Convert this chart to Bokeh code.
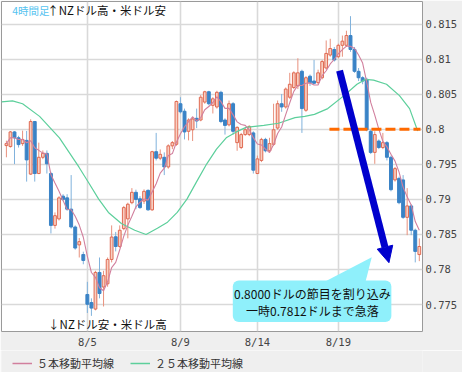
import pandas as pd
from bokeh.plotting import figure
from bokeh.layouts import column
from bokeh.models import (ColumnDataSource, FixedTicker, Range1d, Label, Legend, LegendItem,
                          BoxAnnotation, Arrow, NormalHead, NumeralTickFormatter)
from bokeh.embed import file_html
from bokeh.resources import INLINE

# ---------------- data (NZD/USD, 4-hour candles) ----------------
opens = [0.79768, 0.79754, 0.79963, 0.79879, 0.79796, 0.79842, 0.79361, 0.80111, 0.79369, 0.79601,
         0.79657, 0.79369, 0.78629, 0.78722, 0.79046, 0.79022, 0.78861, 0.78606, 0.78351, 0.78213,
         0.77643, 0.77528, 0.77435, 0.77958, 0.77750, 0.77796, 0.78143, 0.78467, 0.78328, 0.78583,
         0.78722, 0.78953, 0.79101, 0.79008, 0.78976, 0.79129, 0.78851, 0.79681, 0.79588, 0.79601,
         0.79463, 0.79764, 0.79786, 0.80365, 0.80258, 0.79972, 0.79994, 0.80157, 0.80133, 0.80389,
         0.80536, 0.80342, 0.80319, 0.80528, 0.80133, 0.80064, 0.80365, 0.79810, 0.79740, 0.79925,
         0.79925, 0.79949, 0.79369, 0.79556, 0.79856, 0.79694, 0.79786, 0.80018, 0.80365, 0.80319,
         0.80458, 0.80597, 0.80619, 0.80828, 0.80272, 0.80758, 0.80689, 0.80667, 0.80736, 0.80875,
         0.81060, 0.81139, 0.81036, 0.81199, 0.81199, 0.81338, 0.81139, 0.80828, 0.80736, 0.80713,
         0.79972, 0.79671, 0.79833, 0.79740, 0.79810, 0.79601, 0.79278, 0.79300, 0.79278, 0.78744,
         0.78907, 0.78560, 0.78213]
highs = [0.79838, 0.79976, 0.79976, 0.79907, 0.79981, 0.79976, 0.80143, 0.80119, 0.79810, 0.79699,
         0.79699, 0.79393, 0.78814, 0.79046, 0.79074, 0.79074, 0.79347, 0.78629, 0.78449, 0.78254,
         0.77824, 0.77588, 0.77981, 0.78171, 0.77981, 0.78171, 0.78629, 0.78536, 0.78629, 0.78907,
         0.78953, 0.79161, 0.79139, 0.79046, 0.79143, 0.79143, 0.79694, 0.79949, 0.79713, 0.79671,
         0.79786, 0.79833, 0.80411, 0.80458, 0.80296, 0.80157, 0.80181, 0.80296, 0.80490, 0.80550,
         0.80550, 0.80458, 0.80550, 0.80550, 0.80157, 0.80411, 0.80389, 0.80042, 0.79949, 0.80018,
         0.80056, 0.79972, 0.79625, 0.79879, 0.79879, 0.79879, 0.80365, 0.80411, 0.80504, 0.80597,
         0.80806, 0.80828, 0.81014, 0.80851, 0.80758, 0.80782, 0.80990, 0.80851, 0.80990, 0.81268,
         0.81292, 0.81175, 0.81222, 0.81338, 0.81407, 0.81615, 0.81175, 0.80875, 0.80758, 0.80736,
         0.79994, 0.79972, 0.79856, 0.79949, 0.79833, 0.79625, 0.79463, 0.79324, 0.79347, 0.79161,
         0.78931, 0.78583, 0.78444]
lows = [0.79601, 0.79740, 0.79504, 0.79740, 0.79764, 0.79254, 0.79351, 0.79254, 0.79361, 0.79574,
        0.79369, 0.78514, 0.78583, 0.78699, 0.78976, 0.78838, 0.78583, 0.78282, 0.78171, 0.78074,
        0.77379, 0.77338, 0.77417, 0.77588, 0.77472, 0.77754, 0.78101, 0.78258, 0.78310, 0.78560,
        0.78444, 0.78931, 0.78861, 0.78865, 0.78935, 0.78837, 0.78837, 0.79556, 0.79560, 0.79347,
        0.79439, 0.79717, 0.79764, 0.80226, 0.79856, 0.79842, 0.79833, 0.80018, 0.80115, 0.80365,
        0.80342, 0.80226, 0.80296, 0.80088, 0.79925, 0.80042, 0.79925, 0.79694, 0.79717, 0.79907,
        0.79903, 0.79369, 0.79369, 0.79532, 0.79671, 0.79671, 0.79764, 0.79994, 0.80250, 0.80296,
        0.80435, 0.80574, 0.80574, 0.79949, 0.80250, 0.80619, 0.80643, 0.80643, 0.80713, 0.80851,
        0.81036, 0.80967, 0.81014, 0.81036, 0.81175, 0.81106, 0.80806, 0.80689, 0.80643, 0.79972,
        0.79647, 0.79508, 0.79717, 0.79717, 0.79556, 0.79115, 0.79254, 0.78931, 0.78722, 0.78490,
        0.78490, 0.78101, 0.78119]
closes = [0.79796, 0.79963, 0.79879, 0.79782, 0.79856, 0.79564, 0.80111, 0.79369, 0.79601, 0.79657,
          0.79508, 0.78629, 0.78768, 0.79022, 0.79000, 0.78861, 0.78606, 0.78306, 0.78397, 0.78129,
          0.77504, 0.77449, 0.77958, 0.77657, 0.77911, 0.78143, 0.78463, 0.78328, 0.78560, 0.78883,
          0.78931, 0.79101, 0.79000, 0.78883, 0.79115, 0.78851, 0.79681, 0.79588, 0.79643, 0.79463,
          0.79764, 0.79810, 0.80397, 0.80250, 0.79963, 0.80133, 0.80147, 0.80119, 0.80458, 0.80536,
          0.80365, 0.80435, 0.80528, 0.80111, 0.80056, 0.80365, 0.79972, 0.80028, 0.79925, 0.79994,
          0.80042, 0.79417, 0.79578, 0.79856, 0.79694, 0.79796, 0.79994, 0.80365, 0.80319, 0.80574,
          0.80643, 0.80806, 0.80806, 0.80296, 0.80736, 0.80667, 0.80657, 0.80806, 0.80967, 0.81083,
          0.81153, 0.80990, 0.81199, 0.81258, 0.81338, 0.81139, 0.80828, 0.80736, 0.80689, 0.79994,
          0.79671, 0.79925, 0.79740, 0.79810, 0.79601, 0.79139, 0.79439, 0.78953, 0.78744, 0.78907,
          0.78560, 0.78258, 0.78328]

# 25-bar moving average (bar position, value)
ma25_pos = [-1.2, 1.5, 4.0, 8.2, 13.1, 17.9, 20.4, 22.8, 25.2, 28.4, 31.7, 34.5, 37.3, 39.8, 42.2,
            44.6, 47.0, 49.5, 51.9, 54.3, 56.8, 59.2, 63.6, 67.2, 71.3, 73.7, 76.1, 79.4, 83.4,
            86.6, 88.7, 90.7, 93.9, 97.1, 99.6, 101.6]
ma25_val = [0.80393, 0.80407, 0.80365, 0.80185, 0.79879, 0.79463, 0.79231, 0.79004, 0.78814, 0.78657,
            0.78560, 0.78500, 0.78588, 0.78675, 0.78814, 0.79004, 0.79254, 0.79508, 0.79717, 0.79879,
            0.79963, 0.80028, 0.80056, 0.80087, 0.80167, 0.80185, 0.80213, 0.80296, 0.80481, 0.80643,
            0.80713, 0.80703, 0.80643, 0.80481, 0.80296, 0.79976]

x_tick_pos = [20, 43, 62, 82]
x_tick_labels = ["8/5", "8/9", "8/14", "8/19"]
y_ticks = [0.775, 0.78, 0.785, 0.79, 0.795, 0.8, 0.805, 0.81, 0.815]
support_level = 0.8

legend_labels = ["５本移動平均線", "２５本移動平均線"]
title_tag = "4時間足"
title_up = "↑NZドル高・米ドル安"
title_down = "↓NZドル安・米ドル高"
note_lines = ["0.8000ドルの節目を割り込み", "一時0.7812ドルまで急落"]

# ---------------- build ----------------
df = pd.DataFrame(dict(i=list(range(len(opens))), o=opens, h=highs, l=lows, c=closes))
df["top"] = df[["o", "c"]].max(axis=1)
df["bot"] = df[["o", "c"]].min(axis=1)
df["ma5"] = df["c"].rolling(5, min_periods=1).mean()
up = ColumnDataSource(df[df.c >= df.o])
dn = ColumnDataSource(df[df.c < df.o])

JP = "Noto Sans CJK JP"
MONO = "DejaVu Sans Mono"
MA5_COLOR = "#d17f9d"
MA25_COLOR = "#5ccf9b"
PANEL = "#efefef"

p = figure(frame_width=421, frame_height=330, x_range=Range1d(-1.21, 102.79),
           y_range=Range1d(0.77115, 0.81824), y_axis_location="right",
           output_backend="svg", toolbar_location=None,
           min_border_left=1, min_border_top=1, min_border_right=40, min_border_bottom=0,
           background_fill_color="white", border_fill_color=PANEL)
p.outline_line_color = "#9a9a9a"

# grid & axes
p.xaxis.ticker = FixedTicker(ticks=x_tick_pos)
p.xaxis.major_label_overrides = {k: v for k, v in zip(x_tick_pos, x_tick_labels)}
p.yaxis.ticker = FixedTicker(ticks=y_ticks)
p.yaxis.formatter = NumeralTickFormatter(format="0.[000]")
for ax in (p.xaxis[0], p.yaxis[0]):
    ax.axis_line_color = None
    ax.major_tick_line_color = None
    ax.minor_tick_line_color = None
    ax.major_tick_out = 0
    ax.major_tick_in = 0
    ax.major_label_text_font = MONO
    ax.major_label_text_font_size = "10.5px"
    ax.major_label_text_color = "#444444"
    ax.major_label_standoff = 4
p.yaxis.major_label_standoff = 3
p.xgrid.grid_line_color = "#d9d9d9"
p.ygrid.grid_line_color = "#d9d9d9"
p.xgrid.grid_line_width = 1.6
p.ygrid.grid_line_width = 1.6

# candles
p.segment("i", "h", "i", "l", source=up, color="#e8917d", line_width=1)
p.segment("i", "h", "i", "l", source=dn, color="#80b2dc", line_width=1)
p.vbar(x="i", top="top", bottom="bot", width=0.68, source=up,
       fill_color="#f8cfc2", line_color="#e06a52", line_width=1)
p.vbar(x="i", top="top", bottom="bot", width=0.72, source=dn,
       fill_color="#3a83c6", line_color="#3a83c6", line_width=1)

# moving averages
p.line(ma25_pos, ma25_val, color=MA25_COLOR, line_width=1.2)
p.line(x="i", y="ma5", source=ColumnDataSource(df), color=MA5_COLOR, line_width=1.1)

# 0.8000 level
p.line([79.8, 102.3], [support_level, support_level], color="#ff6a00",
       line_width=3, line_dash="10 4")

# arrow
p.add_layout(Arrow(x_start=82.3, y_start=0.80837, x_end=94.5, y_end=0.78097,
                   line_color="#0000cd", line_width=7,
                   end=NormalHead(size=16, fill_color="#0000cd", line_color="#0000cd")))

# callout
p.patch([78.5, 88.7, 90.25], [0.7782, 0.7782, 0.78175], fill_color="#8ff0fb", line_color=None)
p.add_layout(BoxAnnotation(left=55.93, right=95.1, bottom=0.7725, top=0.77842,
                           fill_color="#8ff0fb", fill_alpha=1, line_color=None,
                           border_radius=6, level="annotation"))
for txt, yy in zip(note_lines, [0.77657, 0.77417]):
    p.add_layout(Label(x=75.6, y=yy, text=txt, text_font=JP, text_font_size="12px",
                       text_align="center", text_baseline="middle", text_color="#111111"))

# side notes
p.add_layout(Label(x=1.45, y=0.81699, text=title_tag, text_font=JP, text_font_size="10.5px",
                   text_baseline="middle", text_color="#55c3f0"))
p.add_layout(Label(x=10.1, y=0.81699, text=title_up, text_font=JP, text_font_size="11.5px",
                   text_baseline="middle", text_color="#111111"))
p.add_layout(Label(x=10.3, y=0.77217, text=title_down, text_font=JP, text_font_size="11.5px",
                   text_baseline="middle", text_color="#111111"))

# legend strip (separate small figure under the chart); its key lines sit off-range
lg = figure(width=462, height=22, x_range=Range1d(0, 1), y_range=Range1d(0, 1),
            output_backend="svg", toolbar_location=None,
            min_border=0, background_fill_color=PANEL, border_fill_color=PANEL)
lg.outline_line_color = None
lg.xaxis.visible = False
lg.yaxis.visible = False
lg.xgrid.visible = False
lg.ygrid.visible = False
k5 = lg.line([-5, -4], [-5, -5], color=MA5_COLOR, line_width=1.5)
k25 = lg.line([-5, -4], [-5, -5], color=MA25_COLOR, line_width=1.5)
legend = Legend(items=[LegendItem(label=legend_labels[0], renderers=[k5]),
                       LegendItem(label=legend_labels[1], renderers=[k25])],
                orientation="horizontal",
                label_text_font=JP, label_text_font_size="11px", label_text_color="#333333",
                label_height=12, glyph_width=20, glyph_height=10, spacing=16, padding=2, margin=0,
                label_standoff=5, border_line_color=None, background_fill_alpha=0)
legend.location = (11, 1)
lg.add_layout(legend)

open("out.html", "w").write(file_html(column(p, lg, spacing=0), INLINE))
